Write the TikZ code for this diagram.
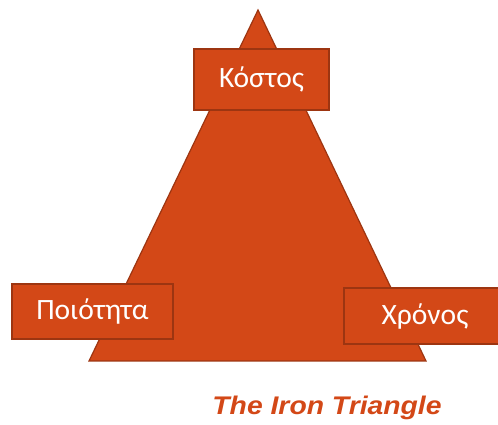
\documentclass[tikz,border=0pt]{standalone}
\usepackage{xcolor}
\usepackage{fontspec}
\newfontfamily\boxfont{Carlito}
\newfontfamily\titlefont[FakeStretch=1.11]{Liberation Sans}
\usetikzlibrary{positioning}

\definecolor{ironfill}{HTML}{D34817}
\definecolor{ironedge}{HTML}{9D3511}

\begin{document}
\begin{tikzpicture}[x=1pt, y=1pt]

			\tikzstyle{label}=[draw=ironedge, line width=2pt, fill=ironfill, text=white, inner sep=0pt, font=\boxfont\fontsize{29.5}{34}\selectfont]

			\useasboundingbox (0,0) rectangle (498,425);
			\clip (0,0) rectangle (498,425);

			\coordinate (apex) at (258,415);
			\coordinate (bl) at (89,64);
			\coordinate (br) at (426,64);

			\draw [ironedge, fill=ironfill, line width=1.2pt, line join=miter] (apex) -- (br) -- (bl) -- cycle;

			\node (cost) at (261.5,345.5) [label, minimum width=135, minimum height=61] {Κόστος};
			\node (quality) at (92.5,113.5) [label, minimum width=161, minimum height=55] {Ποιότητα};
			\node (time) at (425,109) [label, minimum width=162, minimum height=56] {Χρόνος};

			\node (title) [anchor=base, text=ironfill, font=\titlefont\bfseries\itshape\fontsize{25.5}{30}\selectfont] at (327,10) {The Iron Triangle};

\end{tikzpicture}
\end{document}
